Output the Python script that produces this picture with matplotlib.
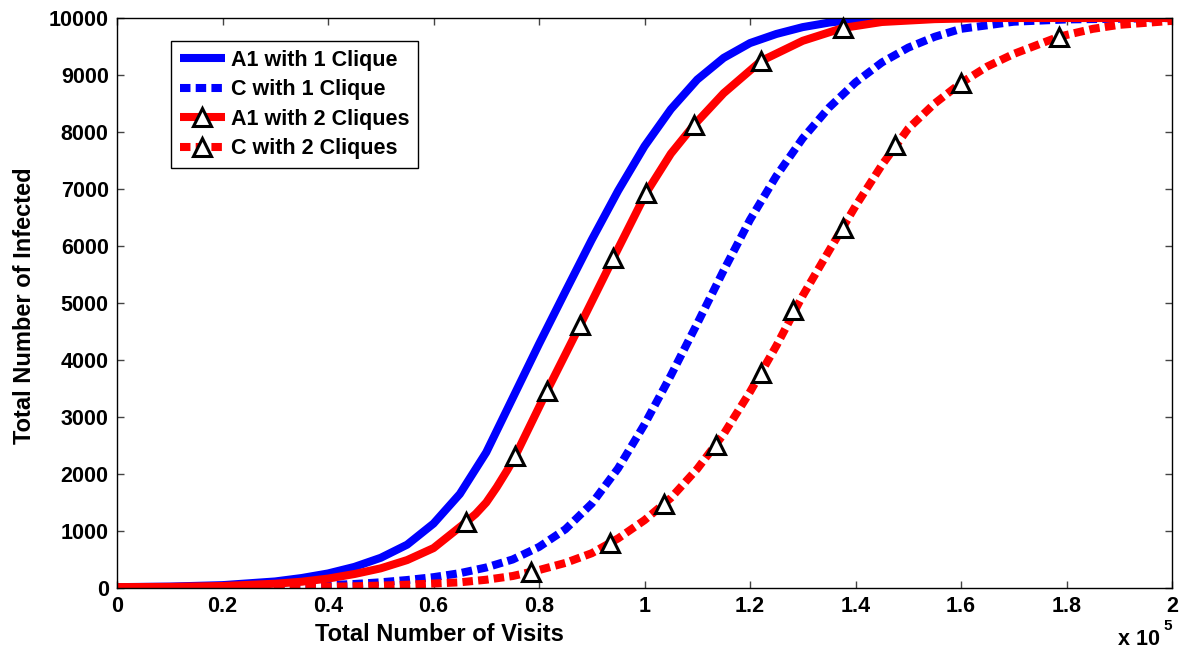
import numpy as np
import matplotlib
matplotlib.use("Agg")
import matplotlib.pyplot as plt
from matplotlib.lines import Line2D

plt.rcParams['font.family'] = ['Liberation Sans', 'DejaVu Sans']
plt.rcParams['font.weight'] = 'bold'

# ---- data (x in units of 1e5 visits) ----
a1_1_x = [0, 0.1, 0.2, 0.3, 0.35, 0.4, 0.45, 0.5, 0.55, 0.6, 0.65, 0.7, 0.75, 0.8, 0.85,
          0.9, 0.95, 1.0, 1.05, 1.1, 1.15, 1.2, 1.25, 1.3, 1.35, 1.4, 1.5, 2.0]
a1_1_y = [15, 25, 50, 115, 175, 255, 370, 530, 760, 1130, 1650, 2380, 3330, 4280, 5200,
          6110, 6970, 7750, 8400, 8920, 9300, 9560, 9720, 9840, 9920, 9970, 10000, 10000]

c_1_x = [0, 0.2, 0.3, 0.4, 0.45, 0.5, 0.55, 0.6, 0.65, 0.7, 0.75, 0.8, 0.85, 0.9, 0.95,
         1.0, 1.05, 1.1, 1.15, 1.2, 1.25, 1.3, 1.35, 1.4, 1.45, 1.5, 1.55, 1.6, 1.7, 1.8, 2.0]
c_1_y = [10, 15, 25, 50, 70, 100, 140, 190, 260, 360, 500, 720, 1030, 1480, 2100,
         2870, 3730, 4640, 5570, 6460, 7230, 7890, 8430, 8870, 9220, 9480, 9670, 9810, 9935, 9975, 10000]

a1_2_x = [0, 0.1, 0.2, 0.3, 0.35, 0.4, 0.45, 0.5, 0.55, 0.6, 0.662, 0.68, 0.7, 0.72, 0.74,
          0.755, 0.815, 0.878, 0.941, 1.003, 1.05, 1.094, 1.15, 1.221, 1.3, 1.376, 1.45,
          1.55, 1.65, 2.0]
a1_2_y = [15, 20, 35, 75, 110, 165, 245, 345, 490, 700, 1158, 1300, 1500, 1770, 2070,
          2316, 3456, 4614, 5789, 6930, 7620, 8123, 8680, 9246, 9600, 9825, 9930,
          9980, 10000, 10000]
a1_2_mx = [0.662, 0.755, 0.815, 0.878, 0.941, 1.003, 1.094, 1.221, 1.376]
a1_2_my = [1158, 2316, 3456, 4614, 5789, 6930, 8123, 9246, 9825]

c_2_x = [0, 0.3, 0.4, 0.45, 0.5, 0.55, 0.6, 0.65, 0.7, 0.75, 0.8, 0.85, 0.9, 0.95, 1.0,
         1.05, 1.1, 1.15, 1.2, 1.25, 1.3, 1.35, 1.4, 1.45, 1.5, 1.55, 1.6, 1.65, 1.7,
         1.785, 1.85, 1.9, 2.0]
c_2_y = [10, 15, 22, 30, 42, 58, 78, 100, 145, 210, 315, 440, 610, 870, 1190,
         1580, 2090, 2700, 3440, 4250, 5130, 5920, 6700, 7420, 8060, 8500, 8860, 9150, 9370,
         9670, 9810, 9880, 9950]
c_2_mx = [0.785, 0.935, 1.037, 1.136, 1.221, 1.282, 1.376, 1.475, 1.6, 1.785]
c_2_my = [281, 789, 1465, 2515, 3772, 4880, 6320, 7780, 8860, 9670]

labels = ['A1 with 1 Clique', 'C with 1 Clique', 'A1 with 2 Cliques', 'C with 2 Cliques']
xticks = [0, 0.2, 0.4, 0.6, 0.8, 1, 1.2, 1.4, 1.6, 1.8, 2]
xtick_labels = ['0', '0.2', '0.4', '0.6', '0.8', '1', '1.2', '1.4', '1.6', '1.8', '2']
yticks = list(range(0, 10001, 1000))

BLUE = '#0000ff'
RED = '#ff0000'
LW = 5.8
DASH = (1.3, 0.65)
FS = 15.5
LFS = 17

fig = plt.figure(figsize=(11.84, 6.52), dpi=100)
ax = fig.add_axes([117/1184, 1 - 588/652, (1172-117)/1184, (588-18)/652])

ax.plot(a1_1_x, a1_1_y, color=BLUE, lw=LW, solid_capstyle='butt', solid_joinstyle='round', zorder=3)
ax.plot(c_1_x, c_1_y, color=BLUE, lw=LW, linestyle=(0, DASH), dash_capstyle='butt', zorder=3)
ax.plot(a1_2_x, a1_2_y, color=RED, lw=LW, solid_capstyle='butt', solid_joinstyle='round', zorder=4)
ax.plot(c_2_x, c_2_y, color=RED, lw=LW, linestyle=(0, DASH), dash_capstyle='butt', zorder=4)

mk = dict(marker='^', markersize=13, markerfacecolor='white', markeredgecolor='black',
          markeredgewidth=2.2, linestyle='none', zorder=6, clip_on=False)
ax.plot(a1_2_mx, a1_2_my, **mk)
ax.plot(c_2_mx, c_2_my, **mk)

ax.set_xlim(0, 2)
ax.set_ylim(0, 10000)
ax.set_xticks(xticks)
ax.set_xticklabels(xtick_labels)
ax.set_yticks(yticks)
ax.set_yticklabels([str(v) for v in yticks])

ax.tick_params(direction='in', length=5, width=1, top=True, right=True,
               labelsize=FS, pad=6, color='#444444')
for lab in ax.get_xticklabels() + ax.get_yticklabels():
    lab.set_fontweight('bold')
for s in ax.spines.values():
    s.set_linewidth(1.0)
    s.set_color('black')
    s.set_zorder(7)

ax.set_xlabel('Total Number of Visits', fontsize=LFS, fontweight='bold')
ax.xaxis.set_label_coords((439-117)/1055, -0.062)
ax.set_ylabel('Total Number of Infected', fontsize=LFS, fontweight='bold')
ax.yaxis.set_label_coords(-(117-36)/1055, 0.495)

fig.text(1118/1184, 1 - 645/652, 'x 10', fontsize=FS, fontweight='bold', ha='left', va='baseline')
fig.text(1163/1184, 1 - 630/652, '5', fontsize=11, fontweight='bold', ha='left', va='baseline')

handles = [
    Line2D([], [], color=BLUE, lw=LW, solid_capstyle='butt'),
    Line2D([], [], color=BLUE, lw=LW, linestyle=(0, DASH), dash_capstyle='butt'),
    Line2D([], [], color=RED, lw=LW, solid_capstyle='butt', marker='^', markersize=13,
           markerfacecolor='white', markeredgecolor='black', markeredgewidth=2.2),
    Line2D([], [], color=RED, lw=LW, linestyle=(0, DASH), dash_capstyle='butt', marker='^',
           markersize=13, markerfacecolor='white', markeredgecolor='black', markeredgewidth=2.2),
]
leg = ax.legend(handles, labels, loc='upper left', bbox_to_anchor=((171-117)/1055, (588-41)/570),
                borderaxespad=0, prop={'weight': 'bold', 'size': FS},
                numpoints=1, handlelength=2.1, handletextpad=0.3, labelspacing=0.4,
                borderpad=0.4, fancybox=False, framealpha=1, edgecolor='black')
leg.get_frame().set_linewidth(1.0)
leg.set_zorder(8)

fig.savefig('out.png', dpi=100)
